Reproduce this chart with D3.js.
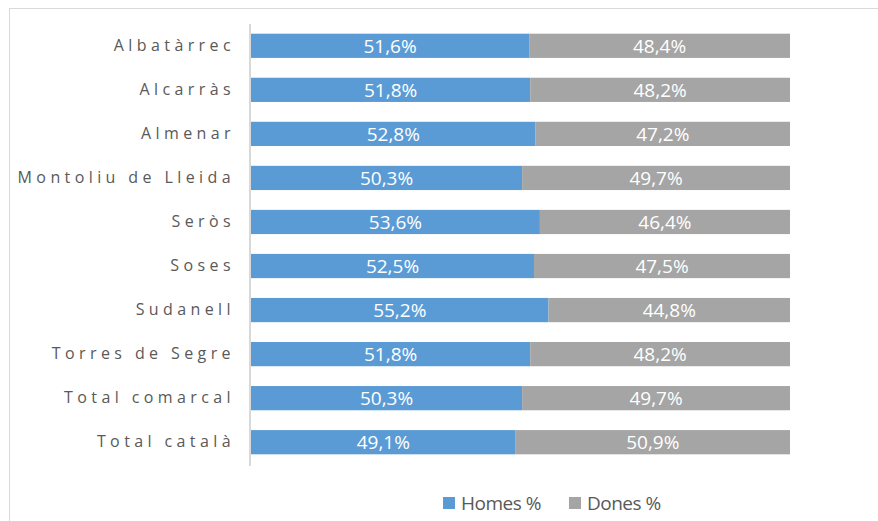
<!DOCTYPE html>
<html lang="ca">
<head>
    <meta charset="UTF-8">
    <title>Homes i dones</title>
    <style>
        body { margin: 0; background: #fff; }
        svg { font-family: "Open Sans", "Noto Sans", sans-serif; }
    </style>
</head>
<body>
<script src="https://d3js.org/d3.v7.min.js"></script>
<script>

  // data
  var categories = ["Albatàrrec", "Alcarràs", "Almenar", "Montoliu de Lleida", "Seròs",
                    "Soses", "Sudanell", "Torres de Segre", "Total comarcal", "Total català"];
  var homes = [51.6, 51.8, 52.8, 50.3, 53.6, 52.5, 55.2, 51.8, 50.3, 49.1];
  var dones = [48.4, 48.2, 47.2, 49.7, 46.4, 47.5, 44.8, 48.2, 49.7, 50.9];
  var seriesNames = ["Homes %", "Dones %"];
  var colors = ["#5b9bd5", "#a5a5a5"];

  var W = 878, H = 521;
  var margin = {top: 24, left: 250, right: 88, bottom: 57};

  var svg = d3.select("body").append("svg")
          .attr("width", W)
          .attr("height", H);

  // chart frame
  svg.append("rect")
          .attr("x", 9.5).attr("y", 8.5)
          .attr("width", W).attr("height", H)
          .attr("fill", "none")
          .attr("stroke", "#d9d9d9");

  var x = d3.scaleLinear()
          .domain([0, 100])
          .range([margin.left + 1, W - margin.right]);
  var y = d3.scaleBand()
          .domain(categories)
          .range([margin.top, H - margin.bottom])
          .paddingInner(0.45)
          .paddingOuter(0.22);

  var rows = categories.map(function(c, i) {
    return [homes[i], dones[i]];
  });

  var stacked = d3.stack().keys([0, 1])(rows);

  stacked.forEach(function(layer, si) {
    var g = svg.append("g");
    g.selectAll("rect")
            .data(layer)
            .enter().append("rect")
            .attr("x", function(d) { return x(d[0]); })
            .attr("y", function(d, i) { return y(categories[i]); })
            .attr("width", function(d) { return x(d[1]) - x(d[0]); })
            .attr("height", y.bandwidth())
            .attr("fill", colors[si]);

    g.selectAll("text")
            .data(layer)
            .enter().append("text")
            .attr("x", function(d) { return (x(d[0]) + x(d[1])) / 2; })
            .attr("y", function(d, i) { return y(categories[i]) + y.bandwidth() / 2; })
            .attr("dy", "0.37em")
            .attr("text-anchor", "middle")
            .attr("fill", "#fff")
            .style("font-size", "19px")
            .text(function(d) { return (d[1] - d[0]).toFixed(1).replace(".", ",") + "%"; });
  });

  // category axis
  var yAxis = svg.append("g")
          .attr("transform", "translate(" + margin.left + ",0)")
          .call(d3.axisLeft(y).tickSize(0).tickPadding(15));
  yAxis.select(".domain").attr("stroke", "#d9d9d9").attr("stroke-width", 2)
          .attr("d", "M0," + margin.top + "V" + (H - margin.bottom + 2));
  yAxis.selectAll("text")
          .attr("fill", "#595959")
          .style("font-size", "16px")
          .style("letter-spacing", "4.4px")
          .style("font-family", "'Open Sans', sans-serif");

  // legend
  var legend = svg.append("g").attr("transform", "translate(0,503)");
  var legendX = [443, 569];
  seriesNames.forEach(function(name, i) {
    legend.append("rect")
            .attr("x", legendX[i]).attr("y", -6)
            .attr("width", 12).attr("height", 12)
            .attr("fill", colors[i]);
    legend.append("text")
            .attr("x", legendX[i] + 18).attr("y", 0)
            .attr("dy", "0.36em")
            .attr("fill", "#595959")
            .style("font-size", "19px")
            .style("letter-spacing", "-0.5px")
            .text(name);
  });

</script>
</body>
</html>
